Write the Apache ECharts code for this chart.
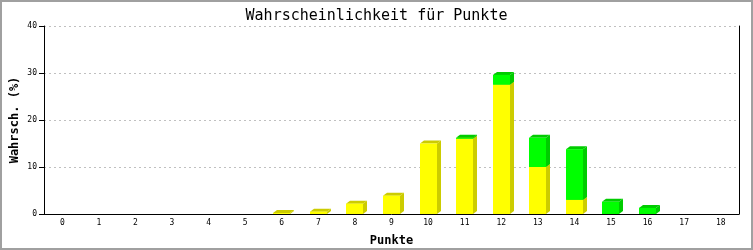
<!DOCTYPE html>
<html>
<head>
<meta charset="utf-8">
<script src="https://cdn.jsdelivr.net/npm/echarts@6/dist/echarts.min.js"></script>
<style>
html,body{margin:0;padding:0;background:#fff;}
#c{width:753px;height:250px;}
</style>
</head>
<body>
<div id="c"></div>
<script>
const categories = ['0','1','2','3','4','5','6','7','8','9','10','11','12','13','14','15','16','17','18'];
const yellowValues = [0,0,0,0,0,0,0.2,0.5,2.2,3.9,15.0,16.0,27.5,10.0,3.0,0,0,0,0];
const greenValues  = [0,0,0,0,0,0,0,0,0,0,0,0.2,2.1,6.2,10.8,2.6,1.3,0,0];
const yTicks = [0,10,20,30,40];

const chart = echarts.init(document.getElementById('c'), null, {renderer:'canvas'});
const MONO = '"DejaVu Sans Mono", "Liberation Mono", monospace';

function makeRender(front, shade, baseArr) {
  return function (params, api) {
    const i = api.value(0);
    const v = api.value(1);
    if (!(v > 0)) return null;
    const base = baseArr ? baseArr[i] : 0;
    const pTop = api.coord([i, base + v]);
    const pBase = api.coord([i, base]);
    const band = api.size([1, 0])[0];
    const w = Math.round(band * 0.47);
    const x0 = Math.round(pTop[0] - w / 2);
    const x1 = x0 + w;
    const yT = pTop[1];
    const yB = pBase[1];
    const dx = 4, dy = 3;
    return {
      type: 'group',
      children: [
        {type:'polygon', shape:{points:[[x1,yT],[x1+dx,yT-dy],[x1+dx,yB-dy],[x1,yB]]}, style:{fill:shade}},
        {type:'polygon', shape:{points:[[x0,yT],[x0+dx,yT-dy],[x1+dx,yT-dy],[x1,yT]]}, style:{fill:shade}},
        {type:'rect', shape:{x:x0, y:yT, width:w, height:yB-yT}, style:{fill:front}}
      ]
    };
  };
}

const option = {
  animation: false,
  backgroundColor: '#ffffff',
  title: {
    text: 'Wahrscheinlichkeit für Punkte',
    left: 'center', top: 4,
    textStyle: {fontFamily: MONO, fontSize: 15, fontWeight: 'normal', color: '#000'}
  },
  graphic: [{
    type: 'rect', silent: true,
    shape: {x: 1, y: 1, width: 751, height: 248},
    style: {fill: 'none', stroke: '#a0a0a0', lineWidth: 2}
  }],
  grid: {left: 44, right: 14, top: 26, bottom: 36, containLabel: false, outerBoundsMode: 'none'},
  xAxis: {
    type: 'category',
    data: categories,
    name: 'Punkte',
    nameLocation: 'middle',
    nameGap: 21,
    nameTextStyle: {fontFamily: MONO, fontSize: 12, fontWeight: 'bold', color: '#000'},
    axisLine: {lineStyle: {color: '#000', width: 1}},
    axisTick: {show: false},
    axisLabel: {fontFamily: MONO, fontSize: 8, color: '#000', margin: 5},
    splitLine: {show: false}
  },
  yAxis: [{
    type: 'value',
    min: yTicks[0], max: yTicks[yTicks.length-1], interval: 10,
    name: 'Wahrsch. (%)',
    nameLocation: 'middle',
    nameGap: 23,
    nameMoveOverlap: false,
    nameTextStyle: {fontFamily: MONO, fontSize: 12, fontWeight: 'bold', color: '#000'},
    axisLine: {show: true, lineStyle: {color: '#000', width: 1}},
    axisTick: {show: true, length: 5, lineStyle: {color: '#000'}},
    axisLabel: {fontFamily: MONO, fontSize: 8, color: '#000', margin: 7},
    splitLine: {show: true, lineStyle: {color: '#c0c0c0', type: [2, 3], width: 1}}
  }, {
    type: 'value', position: 'right',
    min: yTicks[0], max: yTicks[yTicks.length-1], interval: 10,
    axisLine: {show: true, lineStyle: {color: '#000', width: 1}},
    axisTick: {show: false}, axisLabel: {show: false}, splitLine: {show: false}
  }],
  series: [{
    type: 'custom',
    renderItem: makeRender('#ffff00', '#cccc00', null),
    data: yellowValues.map((v, i) => [i, v]),
    encode: {x: 0, y: 1}
  }, {
    type: 'custom',
    renderItem: makeRender('#00ff00', '#00cc00', yellowValues),
    data: greenValues.map((v, i) => [i, v]),
    encode: {x: 0, y: 1}
  }]
};
chart.setOption(option);
</script>
</body>
</html>
